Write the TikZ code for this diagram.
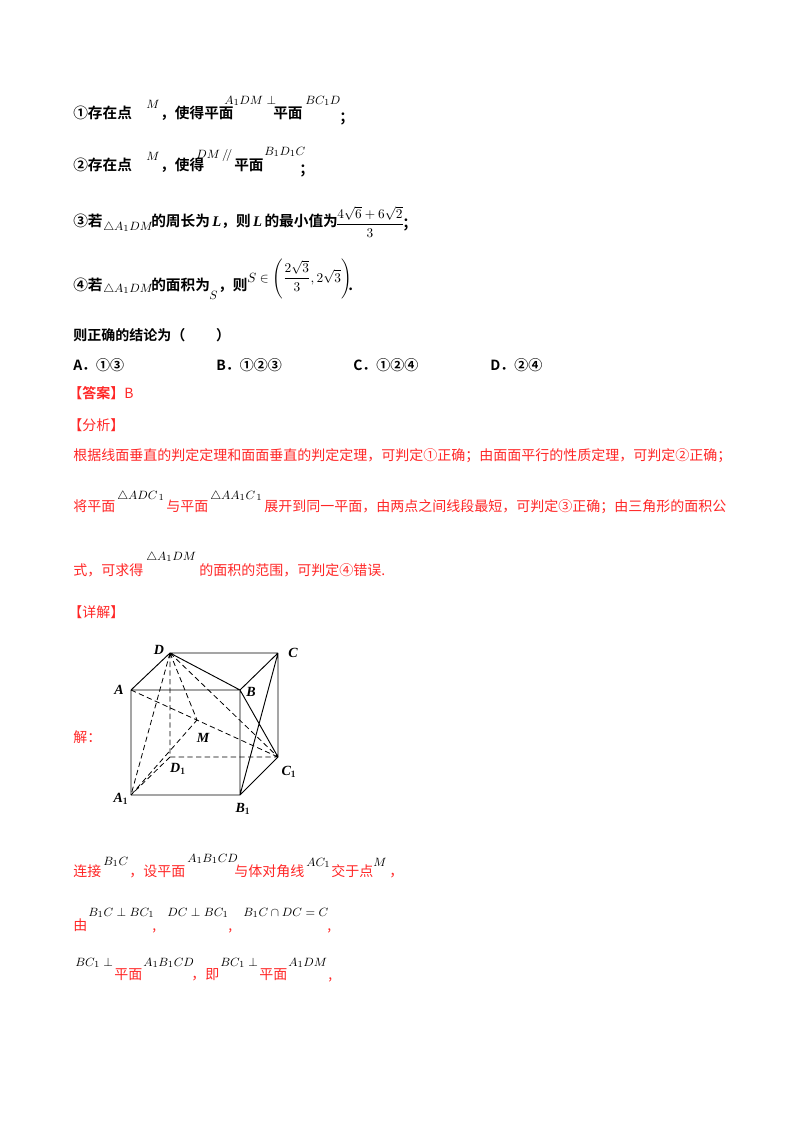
\documentclass[tikz,border=0pt]{standalone}
\usepackage{amsmath,amssymb}
\usepackage{fontspec}
\newfontfamily\cjk{Noto Sans CJK SC}[BoldFont={Noto Sans CJK SC Bold}]
\newfontfamily\tms{Liberation Serif}
\begin{document}
\begin{tikzpicture}[x=0.75pt,y=-0.75pt,
  tx/.style={anchor=base west,inner sep=0pt,font=\cjk\bfseries\fontsize{10.5}{12}\selectfont},
  tq/.style={anchor=base west,inner sep=0pt,font=\cjk\bfseries\fontsize{11}{12}\selectfont},
  rt/.style={anchor=base west,inner sep=0pt,text=red!85!white,font=\cjk\fontsize{10.5}{12}\selectfont},
  mt/.style={anchor=base west,inner sep=0pt,font=\fontsize{9.5}{11}\selectfont},
  lb/.style={inner sep=0pt,font=\tms\bfseries\itshape\fontsize{10.5}{11}\selectfont},
  ed/.style={line width=0.7pt},
  hd/.style={line width=0.6pt,dashed,dash pattern=on 4pt off 2.5pt}]
\useasboundingbox (0,0) rectangle (800,1132);
% line 1
\node[tq] (a1) at (73,118) {①存在点};
\node[mt] (a2) at (146,108) {$M$};
\node[tq] (a3) at (160,118) {，使得平面};
\node[mt] (a4) at (224,104) {$A_1DM\perp$};
\node[tq] (a5) at (273,118) {平面};
\node[mt] (a6) at (305,104) {$BC_1D$};
\node[tq] (a7) at (339,122) {；};
% line 2
\node[tq] (b1) at (73,170) {②存在点};
\node[mt] (b2) at (146,160) {$M$};
\node[tq] (b3) at (160,170) {，使得};
\node[mt] (b4) at (196,158) {$DM\,/\!/$};
\node[tq] (b5) at (234,170) {平面};
\node[mt] (b6) at (264,155) {$B_1D_1C$};
\node[tq] (b7) at (299,174) {；};
% line 3
\node[tq] (c1) at (73,226) {③若};
\node[mt] (c2) at (103,230) {$\triangle A_1DM$};
\node[tq] (c3) at (151,226) {的周长为\,{\tms\bfseries\itshape L}，则\,{\tms\bfseries\itshape L}\,的最小值为};
\node[mt,anchor=center,font=\fontsize{10}{11}\selectfont] (c4) at (370,222) {$\dfrac{4\sqrt6+6\sqrt2}{3}$};
\node[tq] (c5) at (402,228) {；};
% line 4
\node[tq] (d1) at (73,290) {④若};
\node[mt] (d2) at (103,292) {$\triangle A_1DM$};
\node[tq] (d3) at (151,290) {的面积为};
\node[mt] (d4) at (209,299) {$S$};
\node[tq] (d5) at (218,290) {，则};
\node[mt,font=\fontsize{10}{11}\selectfont] (d6) at (247,282) {$S\in\left(\dfrac{2\sqrt3}{3},2\sqrt3\right)$};
\node[tq] (d7) at (348,290) {.};
% choices
\node[tx] (e1) at (73,340) {则正确的结论为（\hspace{2.2em}）};
\node[tx] (f1) at (73,370) {A．①③};
\node[tx] (f2) at (216,370) {B．①②③};
\node[tx] (f3) at (353,370) {C．①②④};
\node[tx] (f4) at (490,370) {D．②④};
\node[tx,text=red!85!white] (g1) at (68,398) {【答案】\mdseries B};
\node[rt] (g2) at (68,430) {【分析】};
\node[rt] (h1) at (73,460) {根据线面垂直的判定定理和面面垂直的判定定理，可判定①正确；由面面平行的性质定理，可判定②正确；};
\node[rt] (i1) at (73,511) {将平面};
\node[mt] (i2) at (117,499) {$\triangle ADC_{\,1}$};
\node[rt] (i3) at (166,511) {与平面};
\node[mt] (i4) at (210,499) {$\triangle AA_1C_{\,1}$};
\node[rt] (i5) at (264,511) {展开到同一平面，由两点之间线段最短，可判定③正确；由三角形的面积公};
\node[rt] (j1) at (73,575) {式，可求得};
\node[mt] (j2) at (146,560) {$\triangle A_1DM$};
\node[rt] (j3) at (199,575) {的面积的范围，可判定④错误.};
\node[rt] (k1) at (68,617) {【详解】};
\node[rt] (k2) at (73,742) {解：};
% cube
\coordinate (D) at (170,653); \coordinate (C) at (278,653);
\coordinate (A) at (131,690); \coordinate (B) at (240,690);
\coordinate (D1) at (170,757); \coordinate (C1) at (278,757);
\coordinate (A1) at (131,795); \coordinate (B1) at (240,795);
\coordinate (M) at (197,720);
\draw[ed] (D)--(C) (D)--(A) (D)--(B) (C)--(B) (A)--(B) (A)--(A1) (A1)--(B1) (B)--(B1)
  (C)--(C1) (B1)--(C1) (B1)--(C) (B)--(C1);
\draw[hd] (D)--(D1) (D1)--(C1) (D1)--(A1) (D)--(A1) (D)--(M) (A)--(C1) (D)--(C1) (A1)--(M);
\node[lb] (lD) at (159,650) {D};
\node[lb] (lC) at (293,653) {C};
\node[lb] (lA) at (119,690) {A};
\node[lb] (lB) at (251,692) {B};
\node[lb] (lM) at (203,738) {M};
\node[lb] (lD1) at (178,769) {D$_{\mathbf 1}$};
\node[lb] (lC1) at (289,772) {C$_{\mathbf 1}$};
\node[lb] (lA1) at (121,799) {A$_{\mathbf 1}$};
\node[lb] (lB1) at (243,809) {B$_{\mathbf 1}$};
% bottom lines
\node[rt] (m1) at (73,876) {连接};
\node[mt] (m2) at (103,865) {$B_1C$};
\node[rt] (m3) at (129,876) {，设平面};
\node[mt] (m4) at (187,862) {$A_1B_1CD$};
\node[rt] (m5) at (234,876) {与体对角线};
\node[mt] (m6) at (306,866) {$AC_1$};
\node[rt] (m7) at (331,876) {交于点};
\node[mt] (m8) at (373,866) {$M$};
\node[rt] (m9) at (389,876) {，};
\node[rt] (n1) at (73,930) {由};
\node[mt] (n2) at (88,916) {$B_1C\perp BC_1$};
\node[rt] (n3) at (152,930) {,};
\node[mt] (n4) at (167,916) {$DC\perp BC_1$};
\node[rt] (n5) at (228,930) {,};
\node[mt] (n6) at (243,916) {$B_1C\cap DC=C$};
\node[rt] (n7) at (327,930) {,};
\node[mt] (o1) at (75,966) {$BC_1\perp$};
\node[rt] (o2) at (114,979) {平面};
\node[mt] (o3) at (143,966) {$A_1B_1CD$};
\node[rt] (o4) at (191,979) {，即};
\node[mt] (o5) at (220,966) {$BC_1\perp$};
\node[rt] (o6) at (259,979) {平面};
\node[mt] (o7) at (288,966) {$A_1DM$};
\node[rt] (o8) at (328,979) {,};
\end{tikzpicture}
\end{document}
